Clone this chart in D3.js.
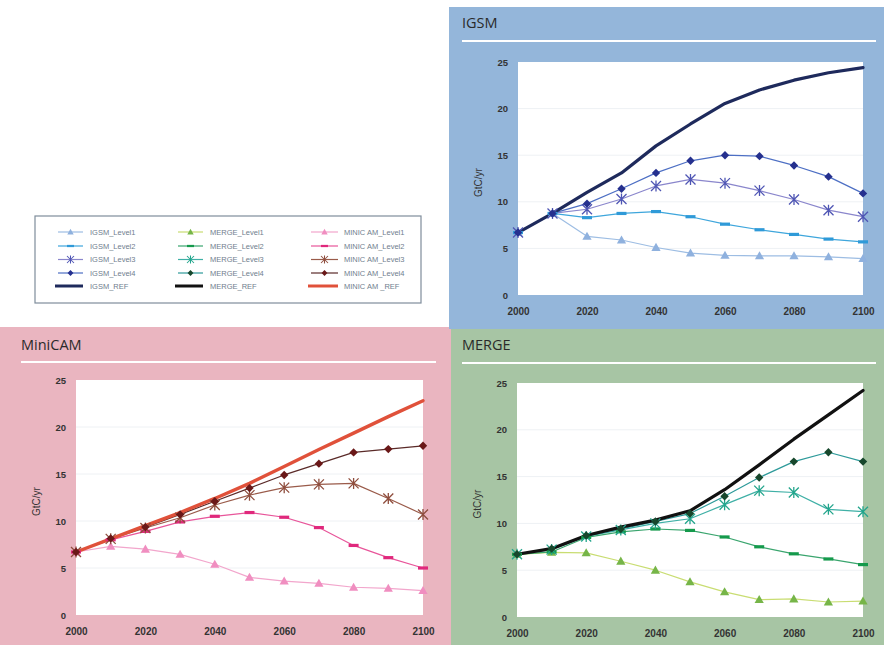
<!DOCTYPE html>
<html>
<head>
<meta charset="utf-8">
<script src="https://cdn.jsdelivr.net/npm/d3@7"></script>
<style>
  html, body { margin: 0; padding: 0; background: #ffffff; }
  svg { display: block; }
  text { font-family: "Liberation Sans Narrow", "Liberation Sans", Arial, sans-serif; }
</style>
</head>
<body>
<svg id="chart" width="884" height="645"></svg>
<script>
// Carbon emissions pathways (GtC/yr) by model and stabilization level
const years = [2000, 2010, 2020, 2030, 2040, 2050, 2060, 2070, 2080, 2090, 2100];
const xTicks = [2000, 2020, 2040, 2060, 2080, 2100];
const yTicks = [0, 5, 10, 15, 20, 25];
const yLabel = "GtC/yr";

const igsmLevel1 = [6.7, 8.75, 6.3, 5.9, 5.1, 4.5, 4.25, 4.2, 4.2, 4.1, 3.9];
const igsmLevel2 = [6.7, 8.75, 8.3, 8.75, 8.95, 8.4, 7.6, 7.0, 6.5, 6.0, 5.7];
const igsmLevel3 = [6.7, 8.75, 9.2, 10.3, 11.7, 12.4, 12.0, 11.2, 10.25, 9.1, 8.4];
const igsmLevel4 = [6.7, 8.75, 9.8, 11.4, 13.1, 14.4, 15.0, 14.9, 13.9, 12.7, 10.9];
const igsmRef    = [6.7, 8.75, 11.0, 13.1, 16.0, 18.35, 20.55, 22.0, 23.05, 23.85, 24.4];

const minicamLevel1 = [6.7, 7.3, 7.0, 6.45, 5.4, 4.0, 3.6, 3.37, 2.95, 2.84, 2.6];
const minicamLevel2 = [6.7, 8.0, 8.9, 9.9, 10.5, 10.9, 10.4, 9.3, 7.4, 6.1, 5.0];
const minicamLevel3 = [6.7, 8.1, 9.25, 10.35, 11.7, 12.75, 13.55, 13.9, 14.0, 12.4, 10.7];
const minicamLevel4 = [6.7, 8.15, 9.35, 10.7, 12.1, 13.5, 14.9, 16.1, 17.3, 17.65, 18.0];
const minicamRef    = [6.7, 8.1, 9.5, 10.9, 12.4, 14.0, 15.8, 17.6, 19.35, 21.1, 22.8];

const mergeLevel1 = [6.7, 6.9, 6.85, 5.96, 5.0, 3.75, 2.68, 1.86, 1.93, 1.6, 1.7];
const mergeLevel2 = [6.7, 6.95, 8.5, 9.1, 9.4, 9.25, 8.55, 7.5, 6.75, 6.2, 5.6];
const mergeLevel3 = [6.7, 7.2, 8.6, 9.3, 10.0, 10.5, 12.0, 13.5, 13.3, 11.5, 11.25];
const mergeLevel4 = [6.7, 7.3, 8.7, 9.4, 10.2, 11.05, 12.9, 14.9, 16.6, 17.6, 16.6];
const mergeRef    = [6.7, 7.3, 8.7, 9.6, 10.35, 11.35, 13.6, 16.25, 19.0, 21.6, 24.2];

const igsmNames    = ["IGSM_Level1", "IGSM_Level2", "IGSM_Level3", "IGSM_Level4", "IGSM_REF"];
const mergeNames   = ["MERGE_Level1", "MERGE_Level2", "MERGE_Level3", "MERGE_Level4", "MERGE_REF"];
const minicamNames = ["MINIC AM_Level1", "MINIC AM_Level2", "MINIC AM_Level3", "MINIC AM_Level4", "MINIC AM _REF"];

// Marker type per stabilization level
const markerKinds = ["triangle", "dash", "asterisk", "diamond", "none"];

// Line / marker styles per model
const igsmStyle = [
  { line: "#9dbde3", mark: "#8fb1de", w: 1.2 },
  { line: "#3ea6dc", mark: "#2f9ad8", w: 1.2 },
  { line: "#8a86cc", mark: "#4f56b4", w: 1.2 },
  { line: "#4d6fc4", mark: "#25308e", w: 1.2 },
  { line: "#1e2a5c", mark: "#1e2a5c", w: 3.2 }
];
const minicamStyle = [
  { line: "#f2a6cc", mark: "#f08ec0", w: 1.2 },
  { line: "#e8559a", mark: "#e0287c", w: 1.2 },
  { line: "#9a5b4a", mark: "#8f4e3e", w: 1.2 },
  { line: "#5a2a28", mark: "#6a1818", w: 1.2 },
  { line: "#e0513a", mark: "#e0513a", w: 3.4 }
];
const mergeStyle = [
  { line: "#c9dd72", mark: "#76b548", w: 1.2 },
  { line: "#3aa56e", mark: "#159a4c", w: 1.2 },
  { line: "#3fb0a6", mark: "#23a58c", w: 1.2 },
  { line: "#2d9a9a", mark: "#17472c", w: 1.2 },
  { line: "#111111", mark: "#111111", w: 3.2 }
];

const panels = [
  {
    title: "MiniCAM", bg: "#eab5c0",
    box: { x: 0, y: 327, w: 451, h: 318 },
    titlePos: { x: 21, y: 350 }, rule: { x0: 21, x1: 436, y: 362 },
    plot: { x0: 76, x1: 423, y0: 380, y1: 615 },
    series: [minicamLevel1, minicamLevel2, minicamLevel3, minicamLevel4, minicamRef],
    style: minicamStyle
  },
  {
    title: "IGSM", bg: "#94b6da",
    box: { x: 449, y: 7, w: 435, h: 322 },
    titlePos: { x: 462, y: 28 }, rule: { x0: 462, x1: 876, y: 41 },
    plot: { x0: 518, x1: 863, y0: 62, y1: 295 },
    series: [igsmLevel1, igsmLevel2, igsmLevel3, igsmLevel4, igsmRef],
    style: igsmStyle
  },
  {
    title: "MERGE", bg: "#a7c5a4",
    box: { x: 451, y: 329, w: 433, h: 316 },
    titlePos: { x: 462, y: 350 }, rule: { x0: 462, x1: 876, y: 363 },
    plot: { x0: 517, x1: 863, y0: 383, y1: 617 },
    series: [mergeLevel1, mergeLevel2, mergeLevel3, mergeLevel4, mergeRef],
    style: mergeStyle
  }
];

const svg = d3.select("#chart");

// Marker glyphs; s scales the glyph (1 = chart size)
function drawMarker(g, kind, color, x, y, s = 1) {
  if (kind === "triangle") {
    const h = 4.6 * s;
    g.append("path")
      .attr("d", `M${x},${y - h}L${x + h},${y + h * 0.75}L${x - h},${y + h * 0.75}Z`)
      .attr("fill", color);
  } else if (kind === "diamond") {
    const r = 4.2 * s;
    g.append("path")
      .attr("d", `M${x},${y - r}L${x + r},${y}L${x},${y + r}L${x - r},${y}Z`)
      .attr("fill", color);
  } else if (kind === "dash") {
    g.append("rect").attr("x", x - 5 * s).attr("y", y - 1.6 * s)
      .attr("width", 10 * s).attr("height", 3.2 * s).attr("fill", color);
  } else if (kind === "asterisk") {
    const r = 5 * s;
    const d = `M${x - r},${y - r}L${x + r},${y + r}M${x - r},${y + r}L${x + r},${y - r}M${x},${y - r - 0.5}L${x},${y + r + 0.5}`;
    g.append("path").attr("d", d).attr("stroke", color)
      .attr("stroke-width", 1.3 * Math.max(s, 0.8)).attr("fill", "none");
  }
}

panels.forEach(p => {
  const g = svg.append("g");
  g.append("rect").attr("x", p.box.x).attr("y", p.box.y)
    .attr("width", p.box.w).attr("height", p.box.h).attr("fill", p.bg);

  g.append("text").attr("x", p.titlePos.x).attr("y", p.titlePos.y)
    .attr("font-size", 14.5).attr("fill", "#2a2a2a")
    .style("font-family", "'Open Sans', 'Liberation Sans', sans-serif")
    .text(p.title);
  g.append("line").attr("x1", p.rule.x0).attr("x2", p.rule.x1)
    .attr("y1", p.rule.y).attr("y2", p.rule.y)
    .attr("stroke", "#ffffff").attr("stroke-width", 2);

  const x = d3.scaleLinear().domain([2000, 2100]).range([p.plot.x0, p.plot.x1]);
  const y = d3.scaleLinear().domain([0, 25]).range([p.plot.y1, p.plot.y0]);

  g.append("rect").attr("x", p.plot.x0).attr("y", p.plot.y0)
    .attr("width", p.plot.x1 - p.plot.x0).attr("height", p.plot.y1 - p.plot.y0)
    .attr("fill", "#ffffff");

  // faint horizontal gridlines
  g.append("g").selectAll("line").data(yTicks.filter(t => t > 0 && t < 25)).join("line")
    .attr("x1", p.plot.x0).attr("x2", p.plot.x1)
    .attr("y1", d => y(d)).attr("y2", d => y(d))
    .attr("stroke", "#eef1f4").attr("stroke-width", 1);

  // axes (labels only)
  const yAxis = g.append("g").attr("transform", `translate(${p.plot.x0 - 10},0)`)
    .call(d3.axisLeft(y).tickValues(yTicks).tickSize(0).tickPadding(0));
  yAxis.select(".domain").remove();
  yAxis.selectAll("text").attr("font-size", 9.5).attr("font-weight", "bold").attr("fill", "#333");

  const xAxis = g.append("g").attr("transform", `translate(0,${p.plot.y1 + 13})`)
    .call(d3.axisBottom(x).tickValues(xTicks).tickFormat(d3.format("d")).tickSize(0).tickPadding(0));
  xAxis.select(".domain").remove();
  xAxis.selectAll("text").attr("font-size", 10).attr("font-weight", "bold").attr("fill", "#333");

  g.append("text")
    .attr("transform", `translate(${p.plot.x0 - 36},${(p.plot.y0 + p.plot.y1) / 2 + 4}) rotate(-90)`)
    .attr("text-anchor", "middle").attr("font-size", 10).attr("fill", "#333")
    .text(yLabel);

  const line = d3.line().x((d, i) => x(years[i])).y(d => y(d));
  p.series.forEach((vals, si) => {
    const st = p.style[si];
    g.append("path").datum(vals).attr("d", line)
      .attr("fill", "none").attr("stroke", st.line).attr("stroke-width", st.w)
      .attr("stroke-linejoin", "round").attr("stroke-linecap", "round");
  });
  p.series.forEach((vals, si) => {
    const kind = markerKinds[si];
    if (kind === "none") return;
    const mg = g.append("g");
    vals.forEach((v, i) => drawMarker(mg, kind, p.style[si].mark, x(years[i]), y(v)));
  });
});

// Legend
const legend = svg.append("g");
legend.append("rect").attr("x", 35).attr("y", 216).attr("width", 386).attr("height", 87)
  .attr("fill", "#ffffff").attr("stroke", "#7f8d9b").attr("stroke-width", 1.2);

const legendCols = [
  { names: igsmNames, style: igsmStyle, lx0: 58, lx1: 83, tx: 90 },
  { names: mergeNames, style: mergeStyle, lx0: 178, lx1: 203, tx: 210 },
  { names: minicamNames, style: minicamStyle, lx0: 311, lx1: 338, tx: 344 }
];
const legendRows = [232, 246, 259.5, 273, 286];

legendCols.forEach(c => {
  c.names.forEach((name, i) => {
    const yy = legendRows[i];
    const st = c.style[i];
    const isRef = i === 4;
    legend.append("line")
      .attr("x1", isRef ? c.lx0 - 3 : c.lx0).attr("x2", c.lx1)
      .attr("y1", yy).attr("y2", yy)
      .attr("stroke", st.line).attr("stroke-width", isRef ? 3 : 1.2);
    if (!isRef) drawMarker(legend, markerKinds[i], st.mark, (c.lx0 + c.lx1) / 2, yy, 0.7);
    legend.append("text").attr("x", c.tx).attr("y", yy + 2.5)
      .attr("font-size", 7.5).attr("fill", "#6f7e8e").text(name);
  });
});
</script>
</body>
</html>
